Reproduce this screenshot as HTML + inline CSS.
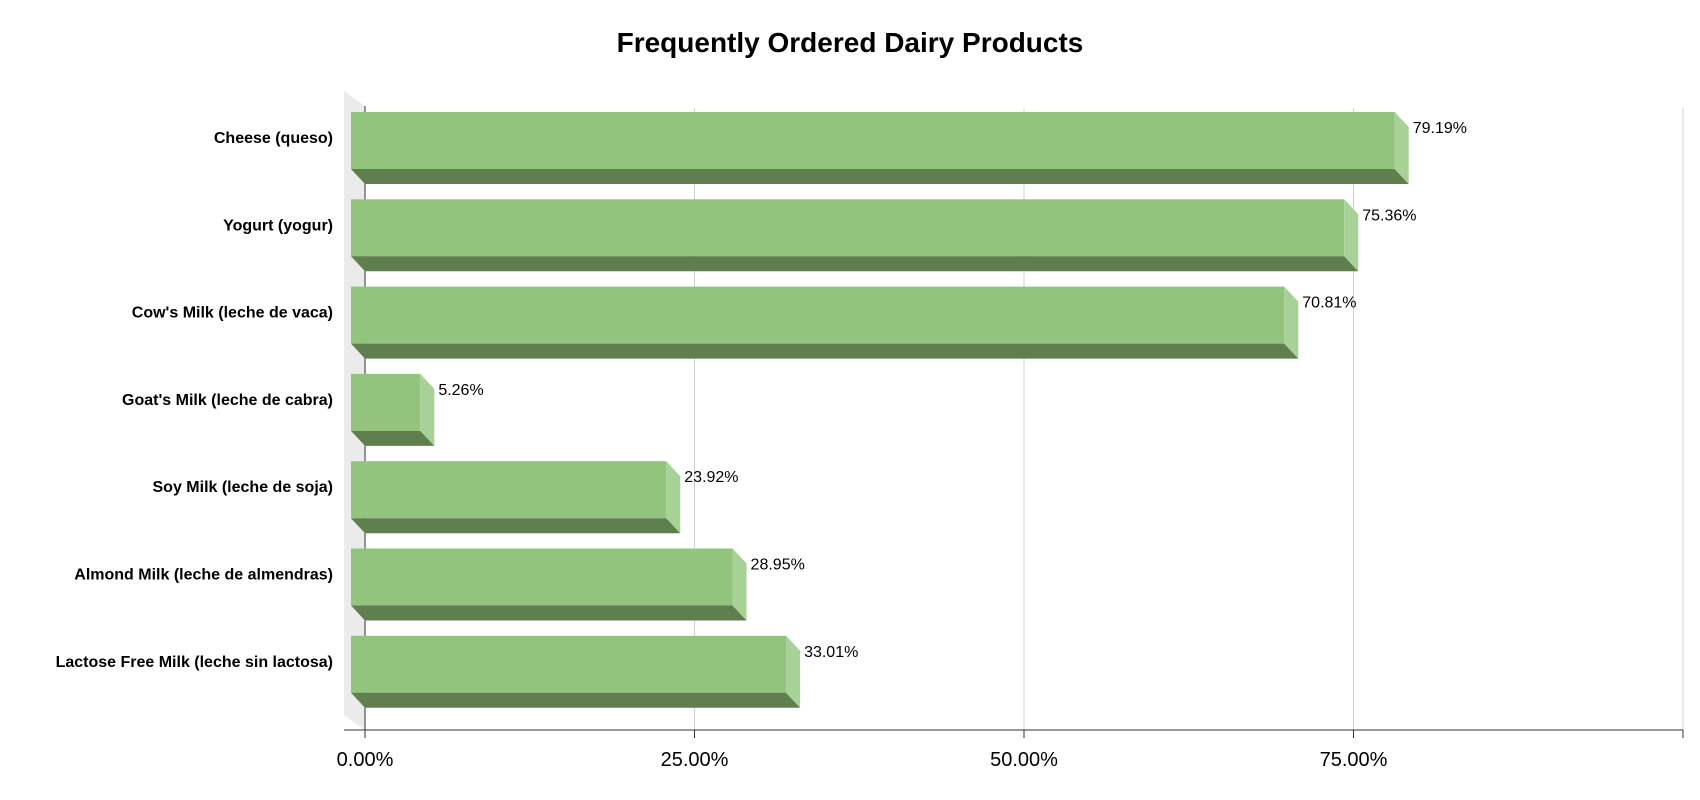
<!DOCTYPE html>
<html><head><meta charset="utf-8"><style>
body{margin:0;background:#fff;}
svg text{font-family:"Liberation Sans",Arial,sans-serif;}
</style></head><body>
<svg id="chart" width="1700" height="795" xmlns="http://www.w3.org/2000/svg">
<text x="850" y="52" text-anchor="middle" font-size="28" font-weight="bold" fill="#000">Frequently Ordered Dairy Products</text>
<g id="g"></g>
</svg>
<script>
const categories=["Cheese (queso)","Yogurt (yogur)","Cow's Milk (leche de vaca)","Goat's Milk (leche de cabra)","Soy Milk (leche de soja)","Almond Milk (leche de almendras)","Lactose Free Milk (leche sin lactosa)"];
const values=[79.19,75.36,70.81,5.26,23.92,28.95,33.01];
const tickValues=[0,25,50,75,100];
const tickLabels=["0.00%","25.00%","50.00%","75.00%",""];
const NS="http://www.w3.org/2000/svg";
const g=document.getElementById('g');
const x0=365,x100=1683,dx=14,dy=15,top0=112,step=87.3,frontH=57;
const xs=v=>x0+(x100-x0)*v/100;
function mk(t,a){const e=document.createElementNS(NS,t);for(const k in a)e.setAttribute(k,a[k]);g.appendChild(e);return e;}
// wall
let w=mk('polygon',{points:`${x0-dx-7},91 ${x0},106 ${x0},730 ${x0-dx-7},715`,fill:'#ebebeb'});


// grid and ticks
tickValues.forEach((v,i)=>{
 const x=xs(v);
 if(v>0){const l=mk('line',{x1:x,y1:108,x2:x,y2:730,stroke:'#d0d0d0','stroke-width':1});
 
 }
 const t=mk('line',{x1:x,y1:730,x2:x,y2:738,stroke:'#333','stroke-width':1});
 
 
 const tx=mk('text',{x:x,y:766,'text-anchor':'middle','font-size':20,fill:'#000'});
 tx.textContent=tickLabels[i];
 
 
});
let ax=mk('line',{x1:x0,y1:106,x2:x0,y2:730,stroke:'#333','stroke-width':1});


let bx=mk('line',{x1:x0-dx-7,y1:730,x2:x100,y2:730,stroke:'#333','stroke-width':1});


categories.forEach((c,i)=>{
 const t=top0+i*step,b=t+frontH,L=x0-dx,R=xs(values[i])-dx;
 const f=mk('rect',{x:L,y:t,width:Math.max(0,R-L),height:frontH,fill:'#93c47d'});
 
 
 const bt=mk('polygon',{points:`${L},${b} ${R},${b} ${R+dx},${b+dy} ${L+dx},${b+dy}`,fill:'#5f7f4f'});
 
 
 const s=mk('polygon',{points:`${R},${t} ${R+dx},${t+dy} ${R+dx},${b+dy} ${R},${b}`,fill:'#a8d197'});
 
 
 const vl=mk('text',{x:R+dx+4,y:t+21,'font-size':16,fill:'#000'});
 vl.textContent=values[i].toFixed(2)+'%';
 
 
 const cl=mk('text',{x:333,y:t+31,'text-anchor':'end','font-size':16,'font-weight':'bold',fill:'#000'});
 cl.textContent=c;
 
 
});
</script>
</body></html>
